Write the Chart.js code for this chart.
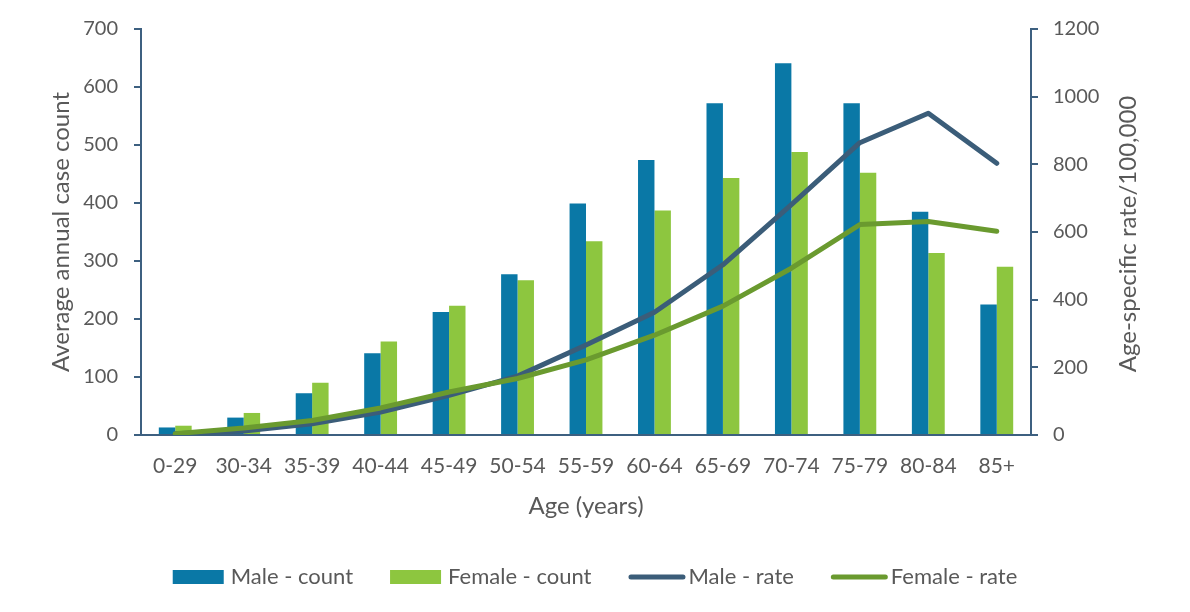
<!DOCTYPE html>
<html>
<head>
<meta charset="utf-8">
<script src="https://cdn.jsdelivr.net/npm/chart.js@4/dist/chart.umd.min.js"></script>
<style>
  html, body { margin: 0; padding: 0; background: #ffffff; }
  #wrap { width: 1190px; height: 612px; position: relative; }
</style>
</head>
<body>
<div id="wrap"><canvas id="c" width="1190" height="612"></canvas></div>
<script>
// Age groups on the category axis
const ageGroups = ['0-29', '30-34', '35-39', '40-44', '45-49', '50-54', '55-59',
                   '60-64', '65-69', '70-74', '75-79', '80-84', '85+'];

// Average annual case counts (left axis)
const maleCount   = [13, 30, 72, 141, 212, 277, 399, 474, 572, 641, 572, 385, 225];
const femaleCount = [16, 38, 90, 161, 223, 267, 334, 387, 443, 488, 452, 314, 290];

// Age-specific rates per 100,000 (right axis)
const maleRate   = [4, 12, 33, 68, 117, 174, 266, 363, 503, 681, 864, 951, 803];
const femaleRate = [4, 21, 43, 80, 127, 167, 222, 295, 381, 493, 622, 631, 602];

const FONT = 'Lato, "Open Sans", sans-serif';
const TEXT = '#595959';
const AXIS = '#3d6080';

const C_MALE_BAR = '#0a78a6';
const C_FEMALE_BAR = '#8dc63f';
const C_MALE_LINE = '#3b5d79';
const C_FEMALE_LINE = '#6a9a2f';

const plainNumber = v => String(v);

// Right-hand axis title, read bottom-to-top like the left one
const rightTitle = {
  id: 'rightTitle',
  afterDraw(chart) {
    const { ctx, chartArea } = chart;
    ctx.save();
    ctx.translate(1128, (chartArea.top + chartArea.bottom) / 2 + 2);
    ctx.rotate(-Math.PI / 2);
    ctx.font = '24px ' + FONT;
    ctx.fillStyle = TEXT;
    ctx.textAlign = 'center';
    ctx.textBaseline = 'middle';
    ctx.fillText('Age-specific rate/100,000', 0, 0);
    ctx.restore();
  }
};

// Single-row legend along the bottom
const bottomLegend = {
  id: 'bottomLegend',
  afterDraw(chart) {
    const { ctx } = chart;
    const cy = 577;
    ctx.save();
    ctx.font = '22px ' + FONT;
    ctx.textBaseline = 'middle';
    ctx.textAlign = 'left';
    const items = chart.data.datasets.map(ds => {
      const isLine = ds.type === 'line';
      return {
        text: ds.label,
        isLine,
        color: isLine ? ds.borderColor : ds.backgroundColor,
        markW: isLine ? 57 : 51,
        gap: isLine ? 3 : 7,
        textW: ctx.measureText(ds.label).width
      };
    });
    const itemGap = 37;
    let total = 0;
    items.forEach((it, i) => {
      total += it.markW + it.gap + it.textW + (i < items.length - 1 ? itemGap : 0);
    });
    let x = (chart.width - total) / 2;
    items.forEach(it => {
      if (it.isLine) {
        ctx.strokeStyle = it.color;
        ctx.lineWidth = 5;
        ctx.lineCap = 'round';
        ctx.beginPath();
        ctx.moveTo(x + 2.5, cy);
        ctx.lineTo(x + it.markW - 2.5, cy);
        ctx.stroke();
      } else {
        ctx.fillStyle = it.color;
        ctx.fillRect(x, cy - 7, it.markW, 14);
      }
      x += it.markW + it.gap;
      ctx.fillStyle = TEXT;
      ctx.fillText(it.text, x, cy);
      x += it.textW + itemGap;
    });
    ctx.restore();
  }
};

new Chart(document.getElementById('c'), {
  data: {
    labels: ageGroups,
    datasets: [
      { type: 'bar', label: 'Male - count', data: maleCount, backgroundColor: C_MALE_BAR,
        yAxisID: 'y', order: 2, categoryPercentage: 0.48, barPercentage: 1.0 },
      { type: 'bar', label: 'Female - count', data: femaleCount, backgroundColor: C_FEMALE_BAR,
        yAxisID: 'y', order: 2, categoryPercentage: 0.48, barPercentage: 1.0 },
      { type: 'line', label: 'Male - rate', data: maleRate, borderColor: C_MALE_LINE,
        backgroundColor: C_MALE_LINE, borderWidth: 5, pointRadius: 0, tension: 0,
        borderCapStyle: 'round', borderJoinStyle: 'round', yAxisID: 'y1', order: 1 },
      { type: 'line', label: 'Female - rate', data: femaleRate, borderColor: C_FEMALE_LINE,
        backgroundColor: C_FEMALE_LINE, borderWidth: 5, pointRadius: 0, tension: 0,
        borderCapStyle: 'round', borderJoinStyle: 'round', yAxisID: 'y1', order: 0 }
    ]
  },
  options: {
    responsive: false,
    animation: false,
    layout: { padding: { top: 29, left: 0, right: 0, bottom: 87 } },
    plugins: {
      legend: { display: false },
      tooltip: { enabled: false }
    },
    scales: {
      x: {
        grid: { display: false, drawTicks: false },
        border: { display: true, color: AXIS, width: 2 },
        ticks: { color: TEXT, font: { family: FONT, size: 21 }, padding: 19, maxRotation: 0, autoSkip: false },
        title: { display: true, text: 'Age (years)', color: TEXT, font: { family: FONT, size: 24 },
                 padding: { top: 0, bottom: 4 } },
        afterFit(scale) { scale.height = 90; }
      },
      y: {
        position: 'left',
        min: 0, max: 700,
        ticks: { stepSize: 100, color: TEXT, font: { family: FONT, size: 20 }, padding: 16, callback: plainNumber },
        grid: { display: true, drawOnChartArea: false, drawTicks: true, tickLength: 7, color: AXIS, lineWidth: 2 },
        border: { display: true, color: AXIS, width: 2 },
        title: { display: true, text: 'Average annual case count', color: TEXT,
                 font: { family: FONT, size: 24 }, padding: { top: 47, bottom: 0 } },
        afterFit(scale) { scale.width = 141; }
      },
      y1: {
        position: 'right',
        min: 0, max: 1200,
        ticks: { stepSize: 200, color: TEXT, font: { family: FONT, size: 20 }, padding: 15, callback: plainNumber },
        grid: { display: true, drawOnChartArea: false, drawTicks: true, tickLength: 7, color: AXIS, lineWidth: 2 },
        border: { display: true, color: AXIS, width: 2 },
        afterFit(scale) { scale.width = 159; }
      }
    }
  },
  plugins: [rightTitle, bottomLegend]
});
</script>
</body>
</html>
